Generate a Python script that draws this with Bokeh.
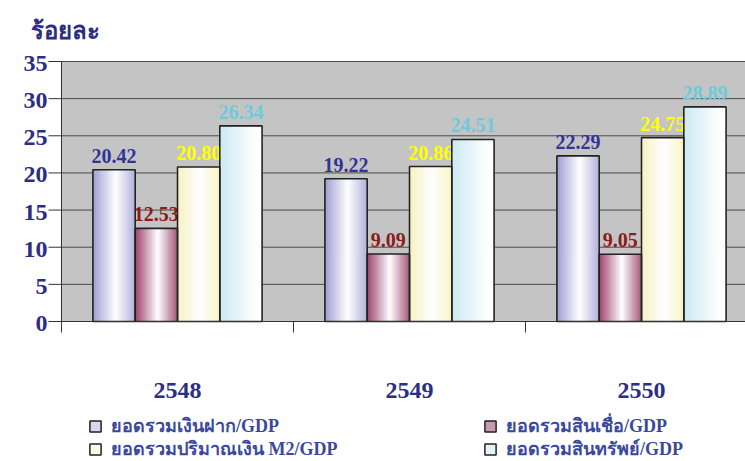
import numpy as np
from bokeh.plotting import figure
from bokeh.models import ColumnDataSource, Range1d, Legend, LegendItem
from bokeh.core.properties import value
from bokeh.embed import file_html
from bokeh.resources import INLINE

# ---------------- data ----------------
years = ["2548", "2549", "2550"]
series_names = ["ยอดรวมเงินฝาก/GDP", "ยอดรวมสินเชื่อ/GDP",
                "ยอดรวมปริมาณเงิน M2/GDP", "ยอดรวมสินทรัพย์/GDP"]
deposits = [20.42, 19.22, 22.29]
credit = [12.53, 9.09, 9.05]
m2 = [20.80, 20.86, 24.75]
assets = [26.34, 24.51, 28.89]
y_ticks = [0, 5, 10, 15, 20, 25, 30, 35]
y_title = "ร้อยละ"

series_values = [deposits, credit, m2, assets]
label_colors = ["#333399", "#8B1A1A", "#FFFF00", "#6CCADB"]
grad_stops = [
    [(0.0, "#9C9CCF"), (0.55, "#FFFFFF"), (1.0, "#B4B4DC")],
    [(0.0, "#9A3E68"), (0.55, "#FFFFFF"), (1.0, "#A85C7E")],
    [(0.0, "#F6F1C2"), (0.55, "#FFFFFF"), (1.0, "#F8F4C6")],
    [(0.0, "#CCE8F1"), (0.9, "#FFFFFF"), (1.0, "#FFFFFF")],
]
swatch_colors = ["#D8D8EE", "#C99AAF", "#FCFAE0", "#E4F3F8"]

NAVY = "#2B2E83"
LEGEND_TEXT = "#3A48A0"
FONT = "Liberation Serif"
AXIS_C = "#333333"

# ---------------- geometry (pixels -> data units) ----------------
W, H = 745, 461
PLOT_LEFT, PLOT_TOP, PLOT_BOTTOM = 61, 61, 321
Y_MAX = 35
CAT_PX = 232.0
PX_Y = (PLOT_BOTTOM - PLOT_TOP) / Y_MAX


def px2x(px):
    return (px - PLOT_LEFT) / CAT_PX


def dpx_y(px):
    return px / PX_Y


def hex2rgb(h):
    h = h.lstrip("#")
    return np.array([int(h[i:i + 2], 16) for i in (0, 2, 4)], dtype=float)


def grad_color(stops, t):
    for (p0, c0), (p1, c1) in zip(stops[:-1], stops[1:]):
        if p0 <= t <= p1:
            f = 0 if p1 == p0 else (t - p0) / (p1 - p0)
            c = hex2rgb(c0) * (1 - f) + hex2rgb(c1) * f
            return "#%02x%02x%02x" % tuple(int(round(v)) for v in c)
    return stops[-1][1]


n_cat = len(years)
bar_w = 42.3 / CAT_PX
x_end = px2x(W)

p = figure(width=W, height=H, output_backend="svg", toolbar_location=None,
           x_range=Range1d(px2x(0), x_end),
           y_range=Range1d(-dpx_y(H - PLOT_BOTTOM), dpx_y(PLOT_BOTTOM)),
           x_axis_location=None, y_axis_location=None,
           min_border=0)
p.background_fill_color = "white"
p.border_fill_color = "white"
p.outline_line_color = None
p.grid.visible = False

# plot area background
p.quad(left=0, right=x_end, bottom=0, top=Y_MAX, fill_color="#C4C4C4",
       line_color=None)
# gridlines
p.segment(x0=[0] * len(y_ticks), x1=[x_end] * len(y_ticks), y0=y_ticks,
          y1=y_ticks, line_color="#4A4A4A", line_width=1)

# gradient stripes
N = 24
for j, vals in enumerate(series_values):
    xs, tops, cols = [], [], []
    for i, v in enumerate(vals):
        left = (i + 0.5) - 2 * bar_w + j * bar_w
        for k in range(N):
            t = (k + 0.5) / N
            xs.append(left + t * bar_w)
            tops.append(v)
            cols.append(grad_color(grad_stops[j], t))
    p.vbar(x=xs, top=tops, bottom=0, width=bar_w / N * 1.7,
           fill_color=cols, line_color=None)

# outlines + value labels
legend_renderers = []
for j, vals in enumerate(series_values):
    xc = [(i + 0.5) - 1.5 * bar_w + j * bar_w for i in range(n_cat)]
    src = ColumnDataSource(dict(x=xc, top=vals,
                                lab=["%.2f" % v for v in vals]))
    p.vbar(x="x", top="top", bottom=0, width=bar_w, source=src,
           fill_color=None, line_color="#222222", line_width=1.6)
    p.text(x="x", y="top", text="lab", source=src, text_align="center",
           text_baseline="bottom", y_offset=-7, text_color=label_colors[j],
           text_font_size="20px", text_font_style="bold",
           text_font=value(FONT))
    # legend swatch renderer (NaN data: draws nothing in the plot)
    r = p.vbar(x=[np.nan], top=[np.nan], width=bar_w,
               fill_color=swatch_colors[j], line_color="#222222",
               line_width=1.5)
    legend_renderers.append(r)

# axes lines and ticks
tick_out_y = 13
tick_out_x = 11
p.segment(x0=[0], x1=[0], y0=[-dpx_y(tick_out_x)], y1=[Y_MAX],
          line_color=AXIS_C, line_width=1)
p.segment(x0=[0], x1=[x_end], y0=[0], y1=[0], line_color=AXIS_C, line_width=1)
p.segment(x0=[-tick_out_y / CAT_PX] * len(y_ticks), x1=[0] * len(y_ticks),
          y0=y_ticks, y1=y_ticks, line_color=AXIS_C, line_width=1)
bounds = list(range(1, n_cat + 1))
p.segment(x0=bounds, x1=bounds, y0=[0] * len(bounds),
          y1=[-dpx_y(tick_out_x)] * len(bounds), line_color=AXIS_C,
          line_width=1)

# y tick labels
p.text(x=[0] * len(y_ticks), y=y_ticks, text=[str(t) for t in y_ticks],
       x_offset=-14, y_offset=2, text_align="right", text_baseline="middle",
       text_font=value(FONT), text_font_style="bold", text_font_size="24px",
       text_color=NAVY)

# category labels
p.text(x=[i + 0.5 for i in range(n_cat)], y=[0] * n_cat, text=years,
       y_offset=61, text_align="center", text_baseline="top",
       text_font=value(FONT), text_font_style="bold", text_font_size="24px",
       text_color=NAVY)

# title
p.text(x=[px2x(30)], y=[dpx_y(PLOT_BOTTOM - 30)], text=[y_title],
       text_align="left", text_baseline="alphabetic",
       text_font=value(FONT), text_font_style="bold", text_font_size="24px",
       text_color=NAVY)

# legend: one single-item legend per entry (2 columns x 2 rows)
legend_pos = [(88, 21), (483, 21), (88, -2), (483, -2)]
for k, (xloc, yloc) in enumerate(legend_pos):
    lg = Legend(items=[LegendItem(label=series_names[k],
                                  renderers=[legend_renderers[k]])],
                location=(xloc, yloc), orientation="vertical",
                border_line_color=None, background_fill_alpha=0,
                padding=0, margin=0, spacing=0, glyph_width=14,
                glyph_height=14, label_height=24, label_standoff=9,
                label_text_font=FONT, label_text_font_style="bold",
                label_text_font_size="18px", label_text_color=LEGEND_TEXT)
    p.add_layout(lg, "center")

open("out.html", "w").write(file_html(p, INLINE))
